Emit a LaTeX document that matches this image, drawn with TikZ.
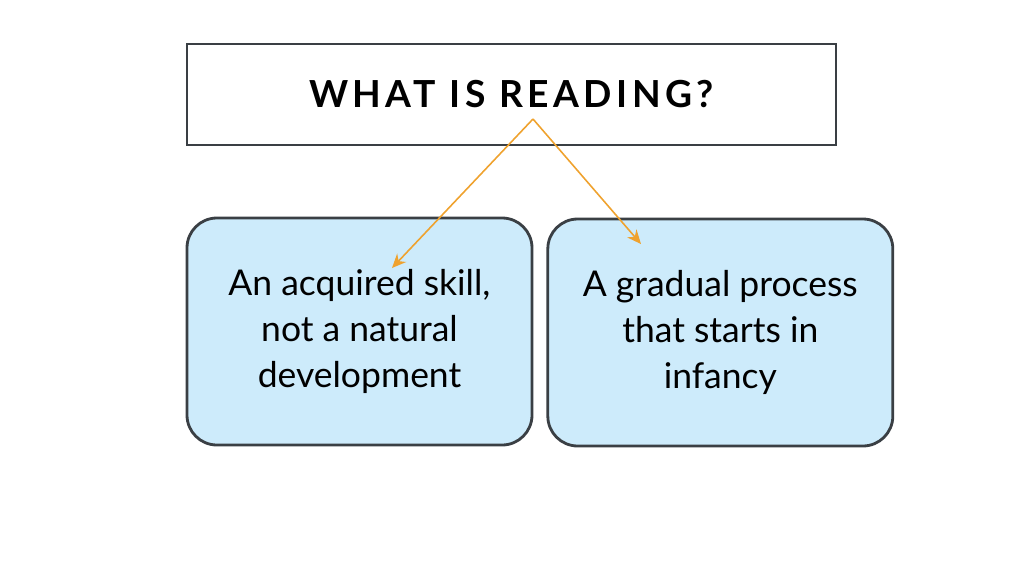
\documentclass[tikz,border=0pt]{standalone}
\usepackage{fontspec}
\setmainfont{Lato}
\newfontfamily\titlefont[LetterSpace=12]{Lato}
\usetikzlibrary{positioning,arrows.meta}
\definecolor{boxblue}{HTML}{CDEBFB}
\definecolor{edgegray}{HTML}{3A3F44}
\definecolor{linkorange}{HTML}{EFA22E}
\tikzset{
  idea/.style={draw=edgegray, line width=0.8pt, fill=boxblue, rounded corners=8.5pt,
    minimum width=3.45cm, minimum height=2.27cm, align=center, font=\fontsize{10.1}{13.1}\selectfont},
  link/.style={draw=linkorange, line width=0.45pt, -{Stealth[length=4pt,width=3.5pt]}}
}
\begin{document}
\begin{tikzpicture}
\useasboundingbox (0,0) rectangle (10.24,5.76);
\node[draw=edgegray, line width=0.6pt, minimum width=6.49cm, minimum height=1.01cm,
  font=\titlefont\bfseries\fontsize{10.6}{12}\selectfont] (title) at (5.115,4.815) {WHAT IS READING?};
\node[idea] (skill) at (3.595,2.445) {An acquired skill,\\not a natural\\development};
\node[idea, right=0.13cm of skill, yshift=-0.01cm] (process) {A gradual process\\that starts in\\infancy};
\coordinate (apex) at (5.33,4.57);
\coordinate (lefttip) at (3.92,3.08);
\coordinate (righttip) at (6.41,3.32);
\draw[link] (apex) -- (lefttip);
\draw[link] (apex) -- (righttip);
\end{tikzpicture}
\end{document}
